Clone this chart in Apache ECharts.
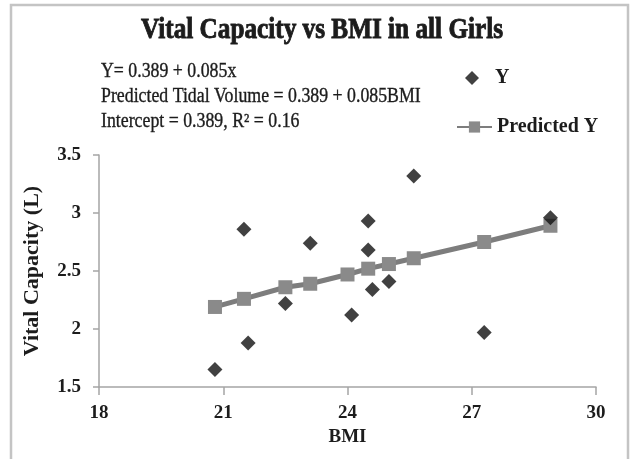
<!DOCTYPE html>
<html>
<head>
<meta charset="utf-8">
<script src="https://cdn.jsdelivr.net/npm/echarts@6/dist/echarts.min.js"></script>
<style>
  html, body { margin: 0; padding: 0; background: #fff; }
  #main { width: 633px; height: 459px; }
</style>
</head>
<body>
<div id="main"></div>
<script>
// observed points (BMI, vital capacity)
const bmiObs = [20.8, 21.5, 21.6, 22.5, 23.1, 24.1, 24.5, 24.5, 24.6, 25.0, 25.6, 27.3, 28.9];
const vcObs = [1.65, 2.86, 1.88, 2.22, 2.74, 2.12, 2.93, 2.68, 2.34, 2.41, 3.32, 1.97, 2.96];

// predicted line
const bmiPred = [20.8, 21.5, 22.5, 23.1, 24.0, 24.5, 25.0, 25.6, 27.3, 28.9];
const vcPred = [2.19, 2.26, 2.36, 2.39, 2.47, 2.52, 2.56, 2.61, 2.75, 2.89];

const xTicks = [18, 21, 24, 27, 30];
const yTicks = [1.5, 2, 2.5, 3, 3.5];

const chartTitle = 'Vital Capacity vs BMI in all Girls';
const notes = [
  'Y= 0.389 + 0.085x',
  'Predicted Tidal Volume = 0.389 + 0.085BMI',
  'Intercept = 0.389, R\u00B2 = 0.16'
];

const serif = '"Liberation Serif", "DejaVu Serif", serif';
const ink = '#1c1c1c';

const chart = echarts.init(document.getElementById('main'), null, { renderer: 'canvas' });

const option = {
  backgroundColor: '#fff',
  animation: false,
  graphic: [
    {
      type: 'rect',
      shape: { x: 11, y: 5, width: 617, height: 470 },
      style: { fill: 'none', stroke: '#c4c4c4', lineWidth: 2.5 },
      silent: true
    },
    {
      // title is a condensed heavy face in the original, so squeeze it a bit
      type: 'text',
      x: 322,
      y: 31,
      scaleX: 0.87,
      style: {
        text: chartTitle,
        font: 'bold 29px ' + serif,
        fill: ink,
        stroke: ink,
        lineWidth: 0.9,
        align: 'center',
        verticalAlign: 'middle'
      }
    },
    ...notes.map((t, i) => ({
      type: 'text',
      x: 101,
      y: 72 + i * 25,
      scaleX: 0.89,
      style: {
        text: t,
        font: '20px ' + serif,
        fill: ink,
        stroke: ink,
        lineWidth: 0.35,
        verticalAlign: 'middle'
      }
    }))
  ],
  legend: [
    {
      data: [{ name: 'Y', icon: 'diamond' }],
      left: 465,
      top: 68,
      padding: 0,
      itemWidth: 14,
      itemHeight: 14,
      textStyle: { fontFamily: serif, fontWeight: 'bold', fontSize: 20, color: ink, padding: [0, 0, 0, 11] }
    },
    {
      data: ['Predicted Y'],
      left: 456,
      top: 117,
      padding: 0,
      itemWidth: 35,
      itemHeight: 14,
      textStyle: { fontFamily: serif, fontWeight: 'bold', fontSize: 20, color: ink }
    }
  ],
  grid: { left: 99, right: 37, top: 155, bottom: 72 },
  xAxis: {
    type: 'value',
    min: xTicks[0],
    max: xTicks[xTicks.length - 1],
    interval: 3,
    name: 'BMI',
    nameLocation: 'middle',
    nameGap: 40,
    nameTextStyle: { fontFamily: serif, fontWeight: 'bold', fontSize: 19, color: ink },
    axisLine: { lineStyle: { color: '#a5a5a5', width: 1.5 } },
    axisTick: { show: true, length: 8, lineStyle: { color: '#a5a5a5', width: 1.5 } },
    axisLabel: { fontFamily: serif, fontWeight: 'bold', fontSize: 19, color: ink, margin: 17 },
    splitLine: { show: false }
  },
  yAxis: {
    type: 'value',
    min: yTicks[0],
    max: yTicks[yTicks.length - 1],
    interval: 0.5,
    name: 'Vital Capacity (L)',
    nameLocation: 'middle',
    nameGap: 56,
    nameTextStyle: { fontFamily: serif, fontWeight: 'bold', fontSize: 22, color: ink },
    axisLine: { show: true, lineStyle: { color: '#a5a5a5', width: 1.5 } },
    axisTick: { show: true, length: 6, lineStyle: { color: '#a5a5a5', width: 1.5 } },
    axisLabel: { fontFamily: serif, fontWeight: 'bold', fontSize: 19, color: ink, margin: 18 },
    splitLine: { show: false }
  },
  series: [
    {
      name: 'Predicted Y',
      type: 'line',
      data: bmiPred.map((x, i) => [x, vcPred[i]]),
      symbol: 'rect',
      symbolSize: 14,
      showAllSymbol: true,
      lineStyle: { color: '#7d7d7d', width: 5 },
      itemStyle: { color: '#8a8a8a' },
      z: 2
    },
    {
      name: 'Y',
      type: 'scatter',
      data: bmiObs.map((x, i) => [x, vcObs[i]]),
      symbol: 'diamond',
      symbolSize: 15,
      itemStyle: { color: '#111' },
      z: 3
    }
  ]
};

chart.setOption(option);
</script>
</body>
</html>
